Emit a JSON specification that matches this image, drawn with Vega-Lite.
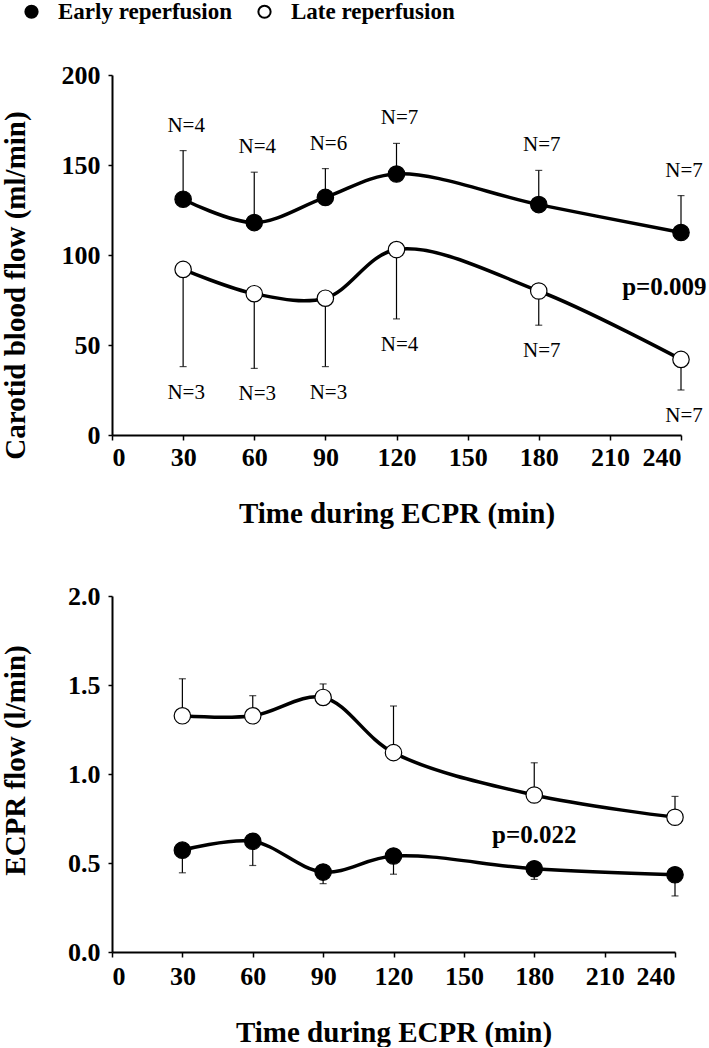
{
  "$schema": "https://vega.github.io/schema/vega-lite/v6.json",
  "background": "white",
  "padding": {"left": 0, "top": 0, "right": 0, "bottom": 0},
  "config": {
    "view": {"stroke": null},
    "font": "Liberation Serif",
    "axis": {
      "grid": false,
      "domainColor": "black",
      "domainWidth": 2,
      "tickColor": "black",
      "tickWidth": 1.5,
      "tickSize": 5,
      "labelFont": "Liberation Serif",
      "labelFontWeight": "bold",
      "labelFontSize": 26,
      "labelColor": "black",
      "titleFont": "Liberation Serif",
      "titleFontWeight": "bold",
      "titleFontSize": 29,
      "titleColor": "black"
    }
  },
  "datasets": {
    "carotid": [
      {"time": 30, "group": "Early reperfusion", "mean": 131, "err": 158, "n": "N=4"},
      {"time": 60, "group": "Early reperfusion", "mean": 118, "err": 146, "n": "N=4"},
      {"time": 90, "group": "Early reperfusion", "mean": 132, "err": 148, "n": "N=6"},
      {"time": 120, "group": "Early reperfusion", "mean": 145, "err": 162, "n": "N=7"},
      {"time": 180, "group": "Early reperfusion", "mean": 128, "err": 147, "n": "N=7"},
      {"time": 240, "group": "Early reperfusion", "mean": 112.5, "err": 133, "n": "N=7"},
      {"time": 30, "group": "Late reperfusion", "mean": 92, "err": 38, "n": "N=3"},
      {"time": 60, "group": "Late reperfusion", "mean": 78.5, "err": 37, "n": "N=3"},
      {"time": 90, "group": "Late reperfusion", "mean": 76, "err": 38, "n": "N=3"},
      {"time": 120, "group": "Late reperfusion", "mean": 103, "err": 64.5, "n": "N=4"},
      {"time": 180, "group": "Late reperfusion", "mean": 80, "err": 61, "n": "N=7"},
      {"time": 240, "group": "Late reperfusion", "mean": 42, "err": 25, "n": "N=7"}
    ],
    "ecpr": [
      {"time": 30, "group": "Early reperfusion", "mean": 0.572, "err": 0.445},
      {"time": 60, "group": "Early reperfusion", "mean": 0.622, "err": 0.486},
      {"time": 90, "group": "Early reperfusion", "mean": 0.449, "err": 0.384},
      {"time": 120, "group": "Early reperfusion", "mean": 0.539, "err": 0.437},
      {"time": 180, "group": "Early reperfusion", "mean": 0.468, "err": 0.408},
      {"time": 240, "group": "Early reperfusion", "mean": 0.434, "err": 0.315},
      {"time": 30, "group": "Late reperfusion", "mean": 1.327, "err": 1.535},
      {"time": 60, "group": "Late reperfusion", "mean": 1.327, "err": 1.44},
      {"time": 90, "group": "Late reperfusion", "mean": 1.43, "err": 1.506},
      {"time": 120, "group": "Late reperfusion", "mean": 1.12, "err": 1.382},
      {"time": 180, "group": "Late reperfusion", "mean": 0.882, "err": 1.063},
      {"time": 240, "group": "Late reperfusion", "mean": 0.757, "err": 0.874}
    ]
  },
  "spacing": 55,
  "resolve": {"scale": {"fill": "independent"}, "legend": {"fill": "independent"}},
  "vconcat": [
    {
      "width": 569,
      "height": 360,
      "data": {"name": "carotid"},
      "encoding": {
        "x": {
          "field": "time", "type": "quantitative",
          "scale": {"domain": [0, 240], "nice": false},
          "title": "Time during ECPR (min)",
          "axis": {"values": [0, 30, 60, 90, 120, 150, 180, 210, 240], "labelPadding": 4, "titleY": 78, "titleBaseline": "middle"}
        }
      },
      "layer": [
        {
          "mark": {"type": "rule", "color": "black", "strokeWidth": 1.2},
          "encoding": {
            "y": {"field": "mean", "type": "quantitative", "scale": {"domain": [0, 200], "nice": false}, "title": "Carotid blood flow  (ml/min)",
              "axis": {"values": [0, 50, 100, 150, 200], "tickSize": 4, "labelPadding": 8, "titleAngle": -90, "titleX": -97, "titleY": 210, "titleBaseline": "middle", "titleAlign": "center"}},
            "y2": {"field": "err"}
          }
        },
        {
          "mark": {"type": "tick", "orient": "horizontal", "color": "black", "size": 7, "thickness": 1.2},
          "encoding": {
            "y": {"field": "err", "type": "quantitative", "title": "Carotid blood flow  (ml/min)"}
          }
        },
        {
          "mark": {"type": "line", "interpolate": "catmull-rom", "color": "black", "strokeWidth": 3.5},
          "encoding": {
            "y": {"field": "mean", "type": "quantitative", "title": "Carotid blood flow  (ml/min)"},
            "detail": {"field": "group"}
          }
        },
        {
          "mark": {"type": "point", "filled": true, "size": 270, "stroke": "black", "strokeWidth": 1.2, "opacity": 1},
          "encoding": {
            "y": {"field": "mean", "type": "quantitative", "title": "Carotid blood flow  (ml/min)"},
            "fill": {
              "field": "group", "type": "nominal",
              "scale": {"domain": ["Early reperfusion", "Late reperfusion"], "range": ["black", "white"]},
              "legend": {
                "orient": "none", "legendX": -92, "legendY": -75, "direction": "horizontal", "title": null,
                "labelFont": "Liberation Serif", "labelFontWeight": "bold", "labelFontSize": 23, "labelColor": "black",
                "symbolType": "circle", "symbolSize": 150, "symbolStrokeColor": "black", "symbolStrokeWidth": 2,
                "labelOffset": 15, "columnPadding": 21, "labelLimit": 0
              }
            }
          }
        },
        {
          "transform": [{"filter": "datum.group === 'Early reperfusion'"}],
          "mark": {"type": "text", "font": "Liberation Serif", "fontSize": 21, "color": "black", "baseline": "middle", "dy": -25, "dx": 3},
          "encoding": {
            "y": {"field": "err", "type": "quantitative", "title": "Carotid blood flow  (ml/min)"},
            "text": {"field": "n"}
          }
        },
        {
          "transform": [{"filter": "datum.group === 'Late reperfusion'"}],
          "mark": {"type": "text", "font": "Liberation Serif", "fontSize": 21, "color": "black", "baseline": "middle", "dy": 26, "dx": 3},
          "encoding": {
            "y": {"field": "err", "type": "quantitative", "title": "Carotid blood flow  (ml/min)"},
            "text": {"field": "n"}
          }
        },
        {
          "data": {"values": [{"time": 233, "value": 82, "label": "p=0.009"}]},
          "mark": {"type": "text", "font": "Liberation Serif", "fontSize": 25, "fontWeight": "bold", "color": "black", "baseline": "middle"},
          "encoding": {
            "y": {"field": "value", "type": "quantitative", "title": "Carotid blood flow  (ml/min)"},
            "text": {"field": "label"}
          }
        }
      ]
    },
    {
      "width": 563,
      "height": 356,
      "data": {"name": "ecpr"},
      "encoding": {
        "x": {
          "field": "time", "type": "quantitative",
          "scale": {"domain": [0, 240], "nice": false},
          "title": "Time during ECPR (min)",
          "axis": {"values": [0, 30, 60, 90, 120, 150, 180, 210, 240], "labelPadding": 6, "titleY": 80, "titleBaseline": "middle"}
        }
      },
      "layer": [
        {
          "mark": {"type": "rule", "color": "black", "strokeWidth": 1.2},
          "encoding": {
            "y": {"field": "mean", "type": "quantitative", "scale": {"domain": [0, 2], "nice": false}, "title": "ECPR flow (l/min)",
              "axis": {"values": [0, 0.5, 1, 1.5, 2], "format": ".1f", "tickSize": 4, "labelPadding": 8, "titleAngle": -90, "titleX": -97, "titleY": 164, "titleBaseline": "middle", "titleAlign": "center"}},
            "y2": {"field": "err"}
          }
        },
        {
          "mark": {"type": "tick", "orient": "horizontal", "color": "black", "size": 7, "thickness": 1.2},
          "encoding": {
            "y": {"field": "err", "type": "quantitative", "title": "ECPR flow (l/min)"}
          }
        },
        {
          "mark": {"type": "line", "interpolate": "catmull-rom", "color": "black", "strokeWidth": 3.5},
          "encoding": {
            "y": {"field": "mean", "type": "quantitative", "title": "ECPR flow (l/min)"},
            "detail": {"field": "group"}
          }
        },
        {
          "mark": {"type": "point", "filled": true, "size": 270, "stroke": "black", "strokeWidth": 1.2, "opacity": 1},
          "encoding": {
            "y": {"field": "mean", "type": "quantitative", "title": "ECPR flow (l/min)"},
            "fill": {
              "field": "group", "type": "nominal",
              "scale": {"domain": ["Early reperfusion", "Late reperfusion"], "range": ["black", "white"]},
              "legend": null
            }
          }
        },
        {
          "data": {"values": [{"time": 180, "value": 0.66, "label": "p=0.022"}]},
          "mark": {"type": "text", "font": "Liberation Serif", "fontSize": 25, "fontWeight": "bold", "color": "black", "baseline": "middle"},
          "encoding": {
            "y": {"field": "value", "type": "quantitative", "title": "ECPR flow (l/min)"},
            "text": {"field": "label"}
          }
        }
      ]
    }
  ]
}
